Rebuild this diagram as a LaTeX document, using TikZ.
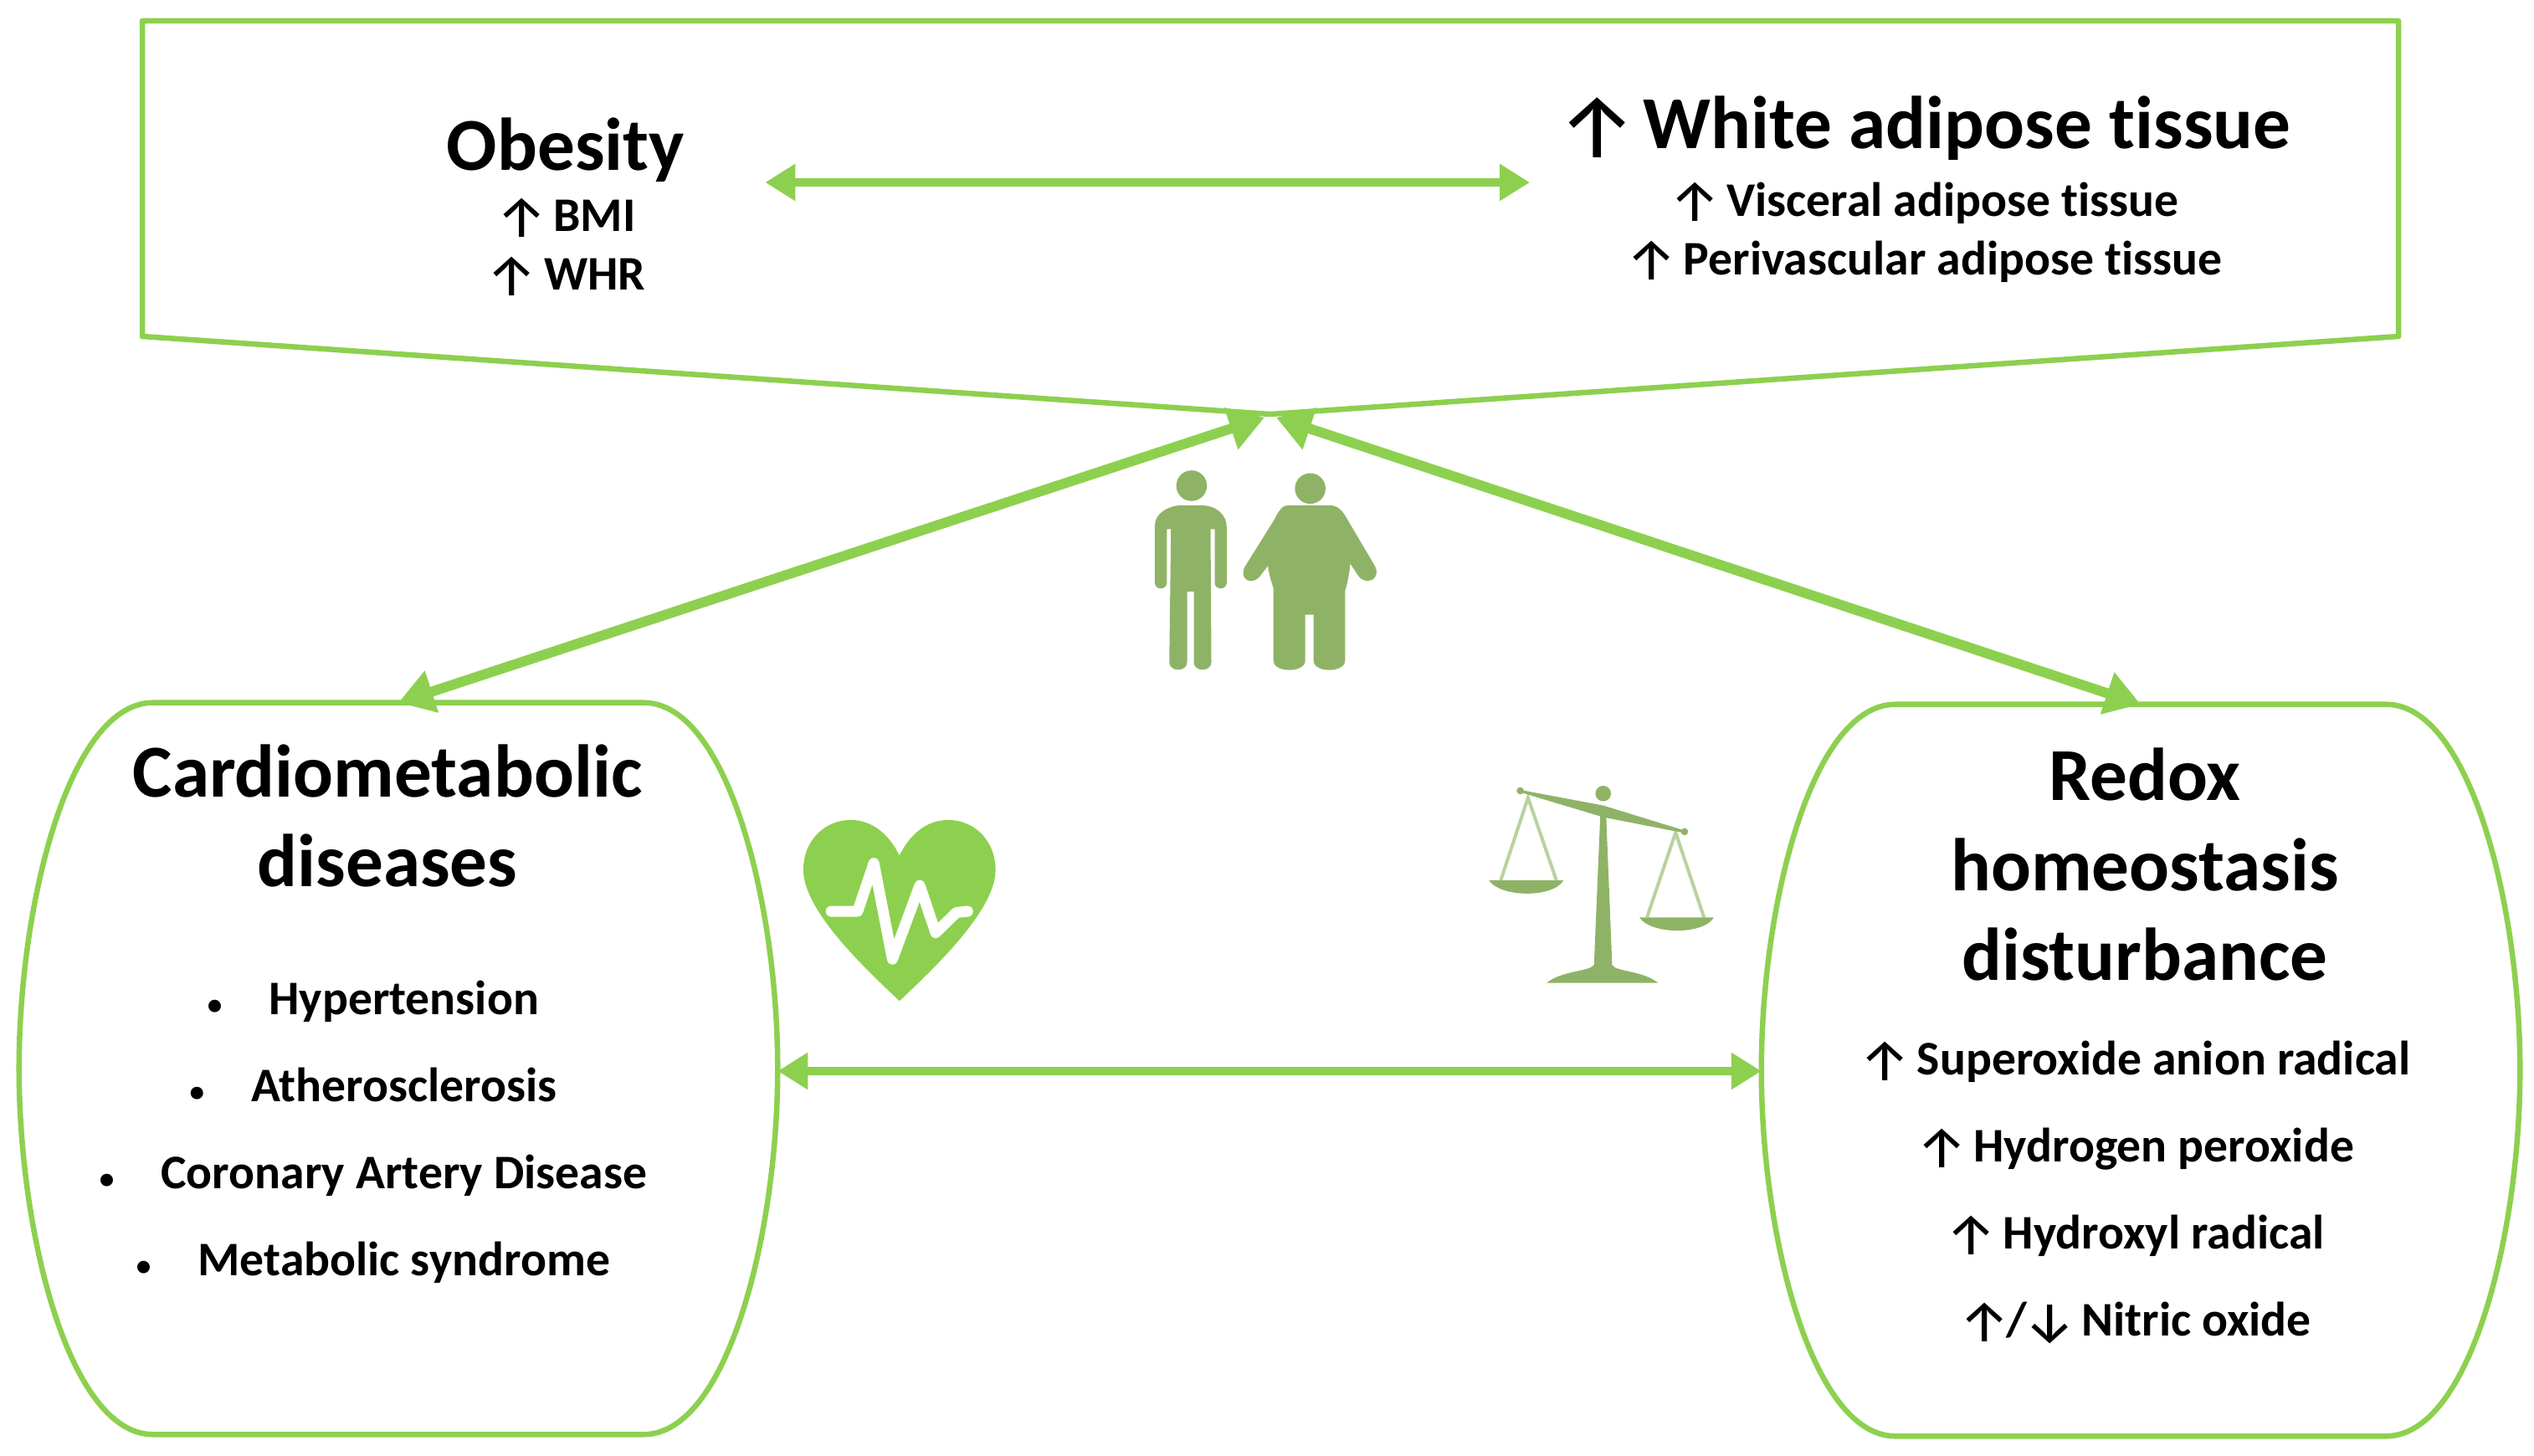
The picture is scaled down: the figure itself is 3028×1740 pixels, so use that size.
\documentclass[tikz,border=0pt]{standalone}
\usepackage{fontspec}
\setmainfont{Carlito}[Ligatures=NoCommon]
\newfontfamily\arrowfont{Fira Sans}
\usetikzlibrary{arrows.meta,positioning,calc}
\definecolor{linegreen}{HTML}{8DD04F}
\definecolor{figgreen}{HTML}{8FB366}
\definecolor{palegreen}{HTML}{B9D2A0}
\newcommand{\upa}{\raisebox{-0.12em}{\scalebox{1.2}{\arrowfont\mdseries ↑}}}
\newcommand{\downa}{\raisebox{-0.12em}{\scalebox{1.2}{\arrowfont\mdseries ↓}}}
\newcommand{\gap}{\hspace{0.12em}}
\newcommand{\bigtitle}{\fontsize{25.4}{30.7}\selectfont}
\newcommand{\smalldot}{{\fontsize{10}{10}\selectfont •}}

\begin{document}
\begin{tikzpicture}[
    x=0.01cm, y=-0.01cm,
    boxline/.style={draw=linegreen, line width=0.065cm, line join=round},
    blank/.style={minimum width=9.06cm, minimum height=8.74cm, inner sep=0pt, outer sep=0pt},
    dbl/.style={{Triangle[length=0.36cm,width=0.42cm]}-{Triangle[length=0.36cm,width=0.42cm]}, line width=0.1cm, draw=linegreen},
    diag/.style={{Triangle[length=0.42cm,width=0.5cm]}-{Triangle[length=0.42cm,width=0.5cm]}, line width=0.12cm, draw=linegreen},
    title/.style={font=\bfseries\bigtitle, align=center, inner sep=0pt},
    items/.style={font=\bfseries\fontsize{16.4}{29.6}\selectfont, align=center, inner sep=0pt},
    topblock/.style={font=\bfseries\fontsize{16.4}{19.9}\selectfont, align=center, inner sep=0pt},
    person/.style={fill=figgreen, draw=none}
]
\useasboundingbox (0,0) rectangle (3028,1740);

% top box
\coordinate (apexL) at (1511,499);
\coordinate (apexR) at (1525,499);
\draw[boxline] (170,25) -- (2866,25) -- (2866,402) -- (1518,495) -- (170,402) -- cycle;
\node[topblock, minimum width=4.75cm] (obesity) at (676,247) {{\bigtitle Obesity}\\[1pt]\upa\gap BMI\\\upa\gap WHR};
\node[topblock, minimum width=9.4cm] (wat) at (2299,226) {{\bigtitle\upa\hspace{-0.15em} White adipose tissue}\\[3pt]\upa\gap Visceral adipose tissue\\\upa\gap Perivascular adipose tissue};

% lower boxes
\node[blank] (cardio) at (476,1277) {};
\node[blank] (redox) at (2558,1279) {};
\foreach \b in {cardio,redox}
    \draw[boxline] ([xshift=1.6cm]\b.north west) -- ([xshift=-1.6cm]\b.north east)
        .. controls ([xshift=-0.6cm]\b.north east) and ([yshift=-2.4cm]\b.north east) .. (\b.east)
        .. controls ([yshift=2.4cm]\b.south east) and ([xshift=-0.6cm]\b.south east) .. ([xshift=-1.6cm]\b.south east)
        -- ([xshift=1.6cm]\b.south west)
        .. controls ([xshift=0.6cm]\b.south west) and ([yshift=2.4cm]\b.south west) .. (\b.west)
        .. controls ([yshift=-2.4cm]\b.north west) and ([xshift=0.6cm]\b.north west) .. cycle;

\node[title] (cardiotitle) at (463,975) {Cardiometabolic\\diseases};
\node[items] (cardiolist) at (446,1353) {\smalldot\hspace{0.56cm}Hypertension\\\smalldot\hspace{0.56cm}Atherosclerosis\\\smalldot\hspace{0.56cm}Coronary Artery Disease\\\smalldot\hspace{0.56cm}Metabolic syndrome};
\node[title] (redoxtitle) at (2563,1033) {Redox\\homeostasis\\disturbance};
\node[items] (redoxlist) at (2551,1425) {\upa\gap Superoxide anion radical\\\upa\gap Hydrogen peroxide\\\upa\gap Hydroxyl radical\\\upa\hspace{-0.08em}/\hspace{-0.08em}\downa\gap Nitric oxide};

% connectors
\draw[dbl] ([yshift=0.29cm]obesity.east) -- ([yshift=0.08cm]wat.west);
\draw[diag] (apexL) -- (cardio.north);
\draw[diag] (apexR) -- (redox.north);
\draw[dbl] ([yshift=-0.03cm]cardio.east) -- ([yshift=-0.01cm]redox.west);

% people
\begin{scope}[shift={(1340,460)}, x=0.00333cm, y=-0.00333cm]
\fill[person] (252,362) circle (55);
\fill[person] (678,372) circle (55);
\fill[person] (120,505) .. controls (120,460) and (170,432) .. (222,432) -- (282,432)
    .. controls (340,432) and (378,465) .. (378,510) -- (378,710)
    .. controls (378,738) and (335,738) .. (335,710) -- (335,518) -- (320,518) -- (323,995)
    .. controls (323,1032) and (260,1032) .. (260,995) -- (260,742) -- (236,742) -- (236,995)
    .. controls (236,1032) and (172,1032) .. (172,995) -- (178,518) -- (163,518) -- (163,710)
    .. controls (163,738) and (120,738) .. (120,710) -- cycle;
\fill[person] (600,432) -- (745,432) .. controls (775,432) and (792,450) .. (805,472)
    -- (910,650) .. controls (935,695) and (880,725) .. (850,685) -- (822,642)
    .. controls (818,680) and (812,710) .. (803,740) -- (803,990)
    .. controls (803,1035) and (690,1035) .. (690,990) -- (690,825) -- (660,825) -- (660,990)
    .. controls (660,1035) and (546,1035) .. (546,990) -- (546,730)
    .. controls (536,700) and (530,680) .. (526,650) -- (495,690)
    .. controls (460,725) and (420,690) .. (445,650) -- (550,482)
    .. controls (565,450) and (580,432) .. (600,432) -- cycle;
\end{scope}

% heart
\begin{scope}[shift={(930,930)}, x=0.00333cm, y=-0.00333cm]
\fill[linegreen] (435,800) .. controls (330,700) and (90,480) .. (90,330)
    .. controls (90,220) and (170,150) .. (260,150)
    .. controls (340,150) and (400,205) .. (435,278)
    .. controls (470,205) and (530,150) .. (610,150)
    .. controls (700,150) and (780,220) .. (780,330)
    .. controls (780,480) and (540,700) .. (435,800) -- cycle;
\draw[white, line width=0.13cm, line join=round, line cap=round]
    (190,478) -- (285,478) -- (343,305) -- (410,650) -- (508,385) -- (565,555) -- (640,482) -- (680,478);
\end{scope}

% balance
\begin{scope}[shift={(1750,920)}, x=0.00333cm, y=-0.00333cm]
\draw[palegreen, line width=0.04cm] (130,397) -- (228,100) -- (330,397);
\draw[palegreen, line width=0.04cm] (655,530) -- (758,225) -- (860,530);
\fill[figgreen] (200,75) circle (13);
\fill[figgreen] (790,222) circle (13);
\fill[figgreen] (498,85) circle (28);
\fill[figgreen] (200,72) -- (498,128) -- (790,218) -- (785,226) -- (498,170) -- (205,82) -- cycle;
\fill[figgreen] (488,150) -- (508,150) -- (530,700) .. controls (540,725) and (640,720) .. (695,765)
    -- (295,765) .. controls (350,720) and (450,725) .. (465,700) -- cycle;
\fill[figgreen] (88,397) -- (355,397) .. controls (320,460) and (130,460) .. (88,397) -- cycle;
\fill[figgreen] (628,530) -- (895,530) .. controls (860,593) and (670,593) .. (628,530) -- cycle;
\end{scope}
\end{tikzpicture}
\end{document}
